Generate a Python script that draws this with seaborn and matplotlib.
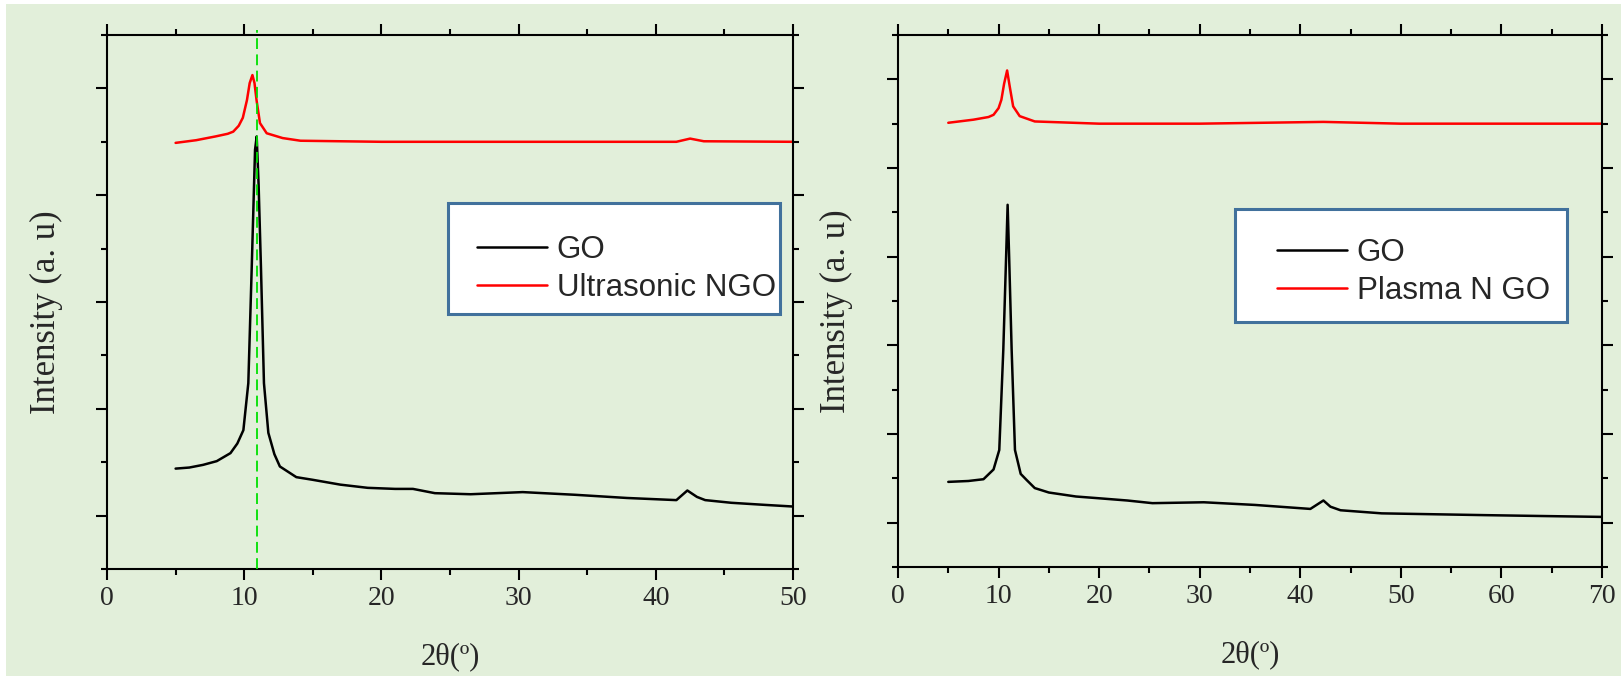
import matplotlib
matplotlib.use("Agg")
import matplotlib.pyplot as plt
from matplotlib.patches import Rectangle
from matplotlib.ticker import MultipleLocator, NullFormatter
import seaborn as sns

# ---------------- data ----------------
# Left panel: GO vs Ultrasonic NGO
left_go_x = [5.0, 6.0, 7.0, 8.0, 9.0, 9.5, 9.94, 10.3, 10.55, 10.79, 10.91, 11.05, 11.22,
             11.44, 11.76, 12.2, 12.6, 13.8, 15.0, 17.0, 19.0, 21.0, 22.3, 23.9, 26.5,
             30.3, 34.1, 37.9, 41.5, 42.3, 43.0, 43.6, 45.5, 48.0, 50.0]
left_go_y = [1.88, 1.90, 1.95, 2.02, 2.17, 2.35, 2.60, 3.48, 5.66, 7.85, 8.10, 7.20, 5.66,
             3.48, 2.55, 2.15, 1.92, 1.72, 1.67, 1.58, 1.52, 1.50, 1.50, 1.42, 1.40,
             1.44, 1.39, 1.33, 1.29, 1.47, 1.35, 1.29, 1.24, 1.20, 1.17]
left_ngo_x = [5.0, 6.5, 7.9, 8.8, 9.2, 9.6, 9.9, 10.2, 10.4, 10.6, 10.75, 10.9, 11.15,
              11.64, 12.8, 14.1, 20.0, 30.0, 41.5, 42.5, 43.5, 50.0]
left_ngo_y = [7.98, 8.03, 8.10, 8.15, 8.19, 8.30, 8.45, 8.78, 9.10, 9.25, 9.10, 8.78, 8.35,
              8.16, 8.07, 8.02, 8.00, 8.00, 8.00, 8.06, 8.01, 8.00]
left_ref_x = 10.95

# Right panel: GO vs Plasma N GO
right_go_x = [5.0, 7.0, 8.5, 9.5, 10.07, 10.47, 10.75, 10.9, 11.05, 11.3, 11.63, 12.2,
              12.8, 13.6, 15.0, 17.7, 20.0, 22.8, 25.3, 30.4, 35.5, 41.0, 42.3, 43.0,
              44.0, 48.1, 53.2, 58.3, 64.0, 70.0]
right_go_y = [1.92, 1.94, 1.98, 2.20, 2.64, 4.90, 7.00, 8.17, 7.00, 4.90, 2.64, 2.10,
              1.96, 1.78, 1.68, 1.59, 1.55, 1.50, 1.44, 1.46, 1.40, 1.31, 1.50, 1.36,
              1.28, 1.21, 1.19, 1.17, 1.15, 1.13]
right_pngo_x = [5.0, 7.5, 9.0, 9.5, 10.0, 10.28, 10.55, 10.85, 11.1, 11.45, 12.1, 13.6,
                20.0, 30.0, 42.3, 50.0, 60.0, 70.0]
right_pngo_y = [10.02, 10.09, 10.15, 10.20, 10.35, 10.54, 10.90, 11.20, 10.85, 10.39,
                10.17, 10.05, 10.00, 10.00, 10.04, 10.00, 10.00, 10.00]

left_labels = ["GO", "Ultrasonic NGO"]
right_labels = ["GO", "Plasma N GO"]
x_label = "2θ(º)"
y_label = "Intensity (a. u)"

# ---------------- styling ----------------
sns.set_style("ticks")
plt.rcParams["font.family"] = ["Liberation Serif", "DejaVu Serif"]

W, H = 1621, 676
BG = "#E2EFDA"
fig = plt.figure(figsize=(W / 100, H / 100), dpi=100, facecolor="white")


def fx(px):
    return px / W


def fy(py):
    return 1 - py / H


# green background panel (white margin at top/left)
fig.patches.append(Rectangle((fx(6), 0), 1 - fx(6), fy(4), transform=fig.transFigure,
                             facecolor=BG, edgecolor="none", zorder=-10))

axL = fig.add_axes([fx(107), fy(569), fx(793) - fx(107), fy(35) - fy(569)])
axR = fig.add_axes([fx(898), fy(567), fx(1602) - fx(898), fy(35) - fy(567)])


def style_axis(ax, xmax, ymax):
    ax.set_facecolor(BG)
    ax.set_xlim(0, xmax)
    ax.set_ylim(0, ymax)
    ax.xaxis.set_major_locator(MultipleLocator(10))
    ax.xaxis.set_minor_locator(MultipleLocator(5))
    ax.yaxis.set_major_locator(MultipleLocator(2, offset=1))
    ax.yaxis.set_minor_locator(MultipleLocator(1))
    ax.yaxis.set_major_formatter(NullFormatter())
    ax.tick_params(which="both", direction="out", top=True, right=True, width=1.5,
                   color="black", labelsize=20, pad=4)
    ax.tick_params(which="major", length=8)
    ax.tick_params(which="minor", length=4.5)
    for s in ax.spines.values():
        s.set_visible(True)
        s.set_linewidth(1.5)
        s.set_color("black")
    ax.set_xlabel(x_label, fontsize=22, labelpad=23)
    ax.set_ylabel(y_label, fontsize=25)


# left panel
sns.lineplot(x=left_go_x, y=left_go_y, ax=axL, color="black", lw=1.8,
             estimator=None, sort=False, label=left_labels[0])
sns.lineplot(x=left_ngo_x, y=left_ngo_y, ax=axL, color="red", lw=1.8,
             estimator=None, sort=False, label=left_labels[1])
axL.axvline(left_ref_x, ymin=0, ymax=1.01, color="#00E000", lw=1.3,
            linestyle=(0, (6, 3)), clip_on=False, zorder=3)
style_axis(axL, 50, 10)
axL.yaxis.set_label_coords(-0.064, 0.48)

# right panel
sns.lineplot(x=right_go_x, y=right_go_y, ax=axR, color="black", lw=1.8,
             estimator=None, sort=False, label=right_labels[0])
sns.lineplot(x=right_pngo_x, y=right_pngo_y, ax=axR, color="red", lw=1.8,
             estimator=None, sort=False, label=right_labels[1])
style_axis(axR, 70, 12)
axR.yaxis.set_label_coords(-0.064, 0.48)

# legends: white box with blue-grey border, entries placed inside
for ax, hx, hy, box in [(axL, 477, 235, (448, 203, 780, 314)),
                        (axR, 1277, 238, (1235, 209, 1567, 322))]:
    handles, labels = ax.get_legend_handles_labels()
    if ax.get_legend() is not None:
        ax.get_legend().remove()
    x0, y0, x1, y1 = box
    fig.patches.append(Rectangle((fx(x0), fy(y1)), fx(x1) - fx(x0), fy(y0) - fy(y1),
                                 transform=fig.transFigure, facecolor="white",
                                 edgecolor="#41719C", linewidth=2.2, zorder=5))
    leg = fig.legend(handles, labels, loc="upper left", bbox_to_anchor=(fx(hx), fy(hy)),
                     bbox_transform=fig.transFigure, frameon=False, borderpad=0,
                     borderaxespad=0, handlelength=2.25, handletextpad=0.3,
                     labelspacing=0.25,
                     prop={"family": ["Liberation Sans", "DejaVu Sans"], "size": 22.5})
    for line in leg.get_lines():
        line.set_linewidth(1.8)
    leg.set_zorder(6)

fig.savefig("out.png", dpi=100, facecolor="white")
